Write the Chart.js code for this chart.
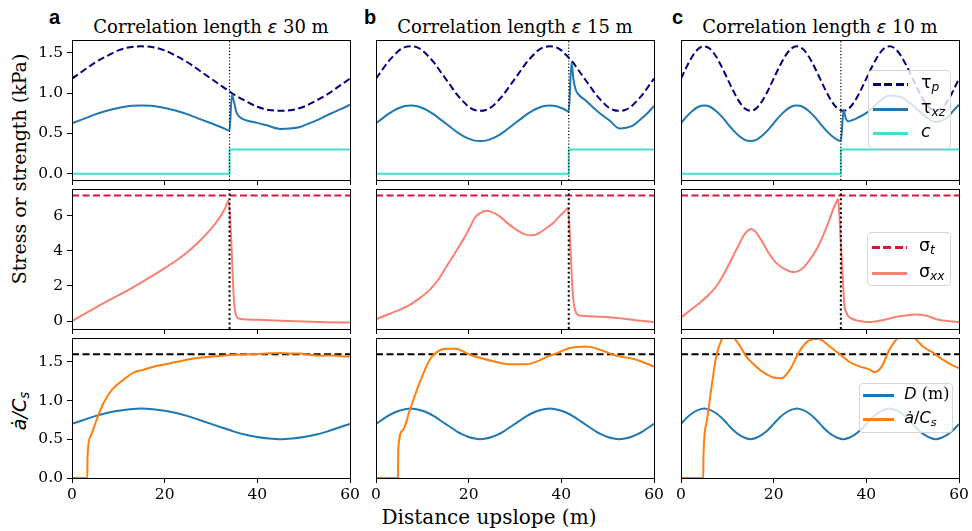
<!DOCTYPE html>
<html>
<head>
<meta charset="utf-8">
<script src="https://cdn.jsdelivr.net/npm/chart.js@4/dist/chart.umd.min.js"></script>
<style>
  body { margin: 0; background: #fff; }
  #fig { position: relative; width: 972px; height: 531px; overflow: hidden; background: #fff; }
  .box { position: absolute; }
  .txt { position: absolute; white-space: nowrap; line-height: 1; color: #000; }
  .serif { font-family: 'DejaVu Serif', serif; }
  .sans { font-family: 'DejaVu Sans', sans-serif; }
  .letter { font-family: 'Liberation Sans', Arial, sans-serif; font-weight: bold; font-size: 20px; }
  sub { font-size: 0.7em; vertical-align: -0.28em; line-height: 0; }
  .leg { position: absolute; background: rgba(255,255,255,0.8); border: 1px solid #d6d6d6; border-radius: 4px; box-sizing: border-box; }
  .handle { position: absolute; height: 3px; }
</style>
</head>
<body>
<div id="fig">
  <div class="txt letter" style="left:49px;top:7px">a</div>
  <div class="txt letter" style="left:364px;top:7px">b</div>
  <div class="txt letter" style="left:672px;top:7px">c</div>

  <div class="txt serif" style="font-size:18px;left:211px;top:18px;transform:translateX(-50%)">Correlation length <span class="sans" style="font-style:italic">ε</span> 30 m</div>
  <div class="txt serif" style="font-size:18px;left:515px;top:18px;transform:translateX(-50%)">Correlation length <span class="sans" style="font-style:italic">ε</span> 15 m</div>
  <div class="txt serif" style="font-size:18px;left:820px;top:18px;transform:translateX(-50%)">Correlation length <span class="sans" style="font-style:italic">ε</span> 10 m</div>

  <div class="txt serif" style="font-size:19px;left:19px;top:169px;transform:translate(-50%,-50%) rotate(-90deg)">Stress or strength (kPa)</div>
  <div class="txt sans" style="font-size:19px;left:19px;top:411px;font-style:italic;transform:translate(-50%,-50%) rotate(-90deg)">ȧ/C<sub>s</sub></div>
  <div class="txt serif" style="font-size:20px;left:489px;top:507px;transform:translateX(-50%)">Distance upslope (m)</div>
</div>

<script>
// x axis and tick labels
const X_TICKS = [0, 20, 40, 60];
const Y_TICKS = [[0, 0.5, 1, 1.5], [0, 2, 4, 6], [0, 0.5, 1, 1.5]];
const Y_RANGE = [[-0.079, 1.659], [-0.45, 7.52], [0, 1.81]];

// failure location per correlation length (a, b, c), thresholds
const FAIL_X = [34, 41.6, 34.5];
const C_AFTER = 0.3;
const SIGMA_T = 7.15;
const A_CRIT = 1.6;

// common x grids (m)
const X25 = [0,2.5,5,7.5,10,12.5,15,17.5,20,22.5,25,27.5,30,32.5,35,37.5,40,42.5,45,47.5,50,52.5,55,57.5,60];
const X49 = [0,1.25,2.5,3.75,5,6.25,7.5,8.75,10,11.25,12.5,13.75,15,16.25,17.5,18.75,20,21.25,22.5,23.75,25,26.25,27.5,28.75,
             30,31.25,32.5,33.75,35,36.25,37.5,38.75,40,41.25,42.5,43.75,45,46.25,47.5,48.75,50,51.25,52.5,53.75,55,56.25,57.5,58.75,60];

// ---- panel a (30 m)
const TAUP_A = [1.18,1.28,1.38,1.46,1.53,1.57,1.58,1.57,1.53,1.46,1.38,1.28,1.18,1.08,0.98,0.90,0.83,0.79,0.78,0.79,0.83,0.90,0.98,1.08,1.18];
const TAUXZ_A_X = [0,2.5,5,7.5,10,12.5,15,17.5,20,22.5,25,27.5,30,32.5,34,34.5,35,35.5,36.5,37.7,40,42,45,47,49.2,51,53.5,56,58,60];
const TAUXZ_A = [0.625,0.68,0.735,0.78,0.815,0.84,0.845,0.84,0.815,0.78,0.735,0.68,0.625,0.57,0.535,0.98,0.88,0.76,0.69,0.66,0.63,0.60,0.555,0.56,0.58,0.62,0.68,0.75,0.80,0.855];
const SXX_A_X = [0,2.5,5,7.5,10,12.5,15,17.5,20,22.5,25,27.5,30,32,33,33.8,34.3,34.7,35.0,35.4,36,37,40,45,50,55,60];
const SXX_A = [0,0.38,0.75,1.12,1.47,1.82,2.2,2.6,3.02,3.45,3.95,4.55,5.25,5.95,6.4,6.85,5.0,2.5,1.0,0.35,0.15,0.1,0.07,0.02,-0.03,-0.06,-0.08];
const D_A = [0.70,0.75,0.80,0.84,0.87,0.89,0.90,0.89,0.87,0.84,0.80,0.75,0.70,0.65,0.60,0.56,0.53,0.51,0.50,0.51,0.53,0.56,0.60,0.65,0.70];
const ADOT_A_X = [0,3.3,3.35,4.0,5.3,6.8,8.6,11.1,13.2,15.5,18.3,21,24,27,30.5,34,38.4,42,44.9,47,49.2,51,53.5,56,58,60];
const ADOT_A = [0,0,0.28,0.54,0.75,0.97,1.14,1.27,1.36,1.40,1.45,1.48,1.52,1.55,1.57,1.59,1.60,1.61,1.615,1.61,1.61,1.595,1.58,1.585,1.575,1.57];

// ---- panel b (15 m)
const TAUP_B = [1.18,1.28,1.38,1.46,1.53,1.57,1.58,1.57,1.53,1.46,1.38,1.28,1.18,1.08,0.98,0.90,0.83,0.79,0.78,0.79,0.83,0.90,0.98,1.08,
                1.18,1.28,1.38,1.46,1.53,1.57,1.58,1.57,1.53,1.46,1.38,1.28,1.18,1.08,0.98,0.90,0.83,0.79,0.78,0.79,0.83,0.90,0.98,1.08,1.18];
const TAUXZ_B_X = [0,1.25,2.5,3.75,5,6.25,7.5,8.75,10,11.25,12.5,13.75,15,16.25,17.5,18.75,20,21.25,22.5,23.75,25,26.25,27.5,28.75,
                   30,31.25,32.5,33.75,35,36.25,37.5,38.75,40,41.25,41.6,42.2,42.6,43.0,43.6,45,46.8,48.5,50.4,52.6,54,55.5,57,58.4,60];
const TAUXZ_B = [0.625,0.68,0.735,0.78,0.815,0.84,0.845,0.84,0.815,0.78,0.735,0.68,0.625,0.57,0.515,0.47,0.435,0.41,0.405,0.41,0.435,0.47,0.515,0.57,
                 0.625,0.68,0.735,0.78,0.815,0.84,0.845,0.84,0.815,0.78,0.765,1.38,1.18,1.06,0.99,0.92,0.825,0.74,0.66,0.56,0.57,0.60,0.67,0.74,0.84];
const SXX_B_X = [0,3,7.3,9.5,11.6,13.5,15.2,17,18.8,20.2,21.3,22.5,23.8,25,26.7,28.5,30.3,32,33.5,35,36.8,38.3,39.6,40.6,41.4,41.7,42.0,42.3,42.6,43.0,43.6,44.5,46,48,50.4,53,56,60];
const SXX_B = [0.1,0.42,0.93,1.32,1.78,2.38,3.11,3.85,4.63,5.3,5.87,6.15,6.28,6.2,5.96,5.55,5.2,4.95,4.88,4.98,5.3,5.6,5.96,6.22,6.44,5.6,4.0,2.3,1.2,0.6,0.35,0.3,0.27,0.25,0.22,0.15,0.05,-0.05];
const D_B = [0.70,0.75,0.80,0.84,0.87,0.89,0.90,0.89,0.87,0.84,0.80,0.75,0.70,0.65,0.60,0.56,0.53,0.51,0.50,0.51,0.53,0.56,0.60,0.65,
             0.70,0.75,0.80,0.84,0.87,0.89,0.90,0.89,0.87,0.84,0.80,0.75,0.70,0.65,0.60,0.56,0.53,0.51,0.50,0.51,0.53,0.56,0.60,0.65,0.70];
const ADOT_B_X = [0,4.75,4.8,5.8,7.3,9.4,11.6,13.4,15.5,17.3,19,20.9,23,25.3,28.9,32.5,35.3,37,38.9,40.5,41.8,43.5,45.4,48.3,50,51.9,55.5,57.5,60];
const ADOT_B = [0,0,0.37,0.62,0.88,1.23,1.53,1.64,1.67,1.67,1.63,1.58,1.545,1.51,1.47,1.47,1.52,1.57,1.61,1.65,1.68,1.695,1.70,1.66,1.62,1.58,1.54,1.50,1.44];

// ---- panel c (10 m)
const TAUP_C = [1.18,1.33,1.46,1.55,1.58,1.55,1.46,1.33,1.18,1.03,0.90,0.81,0.78,0.81,0.90,1.03,
                1.18,1.33,1.46,1.55,1.58,1.55,1.46,1.33,1.18,1.03,0.90,0.81,0.78,0.81,0.90,1.03,
                1.18,1.33,1.46,1.55,1.58,1.55,1.46,1.33,1.18,1.03,0.90,0.81,0.78,0.81,0.90,1.03,1.18];
const TAUXZ_C_X = [0,1.25,2.5,3.75,5,6.25,7.5,8.75,10,11.25,12.5,13.75,15,16.25,17.5,18.75,20,21.25,22.5,23.75,25,26.25,27.5,28.75,30,31.25,32.5,33.75,
                   34.5,35.1,35.5,36.0,37,38,40.2,42.5,45,47.5,50,52.5,55,57.5,58.75,60];
const TAUXZ_C = [0.625,0.71,0.78,0.83,0.845,0.83,0.78,0.71,0.625,0.54,0.47,0.42,0.405,0.42,0.47,0.54,0.625,0.71,0.78,0.83,0.845,0.83,0.78,0.71,0.625,0.54,0.47,0.42,
                 0.405,0.79,0.70,0.65,0.665,0.69,0.76,0.88,0.97,0.95,0.85,0.72,0.64,0.70,0.78,0.855];
const SXX_C_X = [0,2,4,6,7.6,9.5,11.2,12.4,13.4,14.3,15.2,16.2,17.7,19,20.6,22.5,24.5,26,27.8,29.3,30.6,31.8,32.8,33.5,33.9,34.3,34.7,35.0,35.3,35.7,36.0,37,38.6,40,42,44,45.8,48,50.8,53,55.1,57.5,60];
const SXX_C = [0.2,0.62,1.03,1.5,1.97,2.8,3.68,4.3,4.82,5.12,5.24,5.05,4.44,3.85,3.3,2.95,2.79,2.95,3.49,4.1,4.82,5.6,6.34,6.75,6.95,5.5,3.5,2.0,0.83,0.5,0.3,0.12,0,-0.05,-0.02,0.08,0.2,0.3,0.38,0.3,0.11,0.0,-0.05];
const D_C = [0.70,0.78,0.84,0.88,0.90,0.88,0.84,0.78,0.70,0.62,0.56,0.52,0.50,0.52,0.56,0.62,
             0.70,0.78,0.84,0.88,0.90,0.88,0.84,0.78,0.70,0.62,0.56,0.52,0.50,0.52,0.56,0.62,
             0.70,0.78,0.84,0.88,0.90,0.88,0.84,0.78,0.70,0.62,0.56,0.52,0.50,0.52,0.56,0.62,0.70];
const ADOT_C_X = [0,4.8,4.85,5.5,6.6,7.6,8.7,10.3,11.6,12.8,14.1,15.5,17.0,18.5,19.9,21.7,23.5,25.6,27.4,29.6,32.1,34.3,36.4,38.6,40.4,41.8,43.3,45.0,46.8,48.6,50.4,52.2,54.4,56.5,58.2,60];
const ADOT_C = [0,0,0.28,0.71,1.18,1.57,1.78,1.9,1.8,1.70,1.57,1.48,1.40,1.34,1.30,1.29,1.40,1.64,1.77,1.80,1.70,1.60,1.50,1.44,1.41,1.37,1.44,1.66,1.81,1.85,1.81,1.70,1.62,1.53,1.47,1.42];

// layout (px)
const COL_LEFT = [72, 376, 681];
const ROW_TOP = [40, 189, 338];
const PW = 278, PH = 140;
const ML = 60, MR = 14, MT = 14, MB = 30;

const TICK_FONT = { family: 'DejaVu Serif', size: 15.5 };

function series(xs, ys) {
    return xs.map((x, i) => ({ x: x, y: ys[i] }));
}

function line(data, color, width, dash, straight) {
    return {
        data: data,
        borderColor: color,
        backgroundColor: color,
        borderWidth: width,
        borderDash: dash || [],
        pointRadius: 0,
        fill: false,
        tension: straight ? 0 : 0.4,
        cubicInterpolationMode: straight ? 'default' : 'monotone'
    };
}

function failLine(col, row) {
    const f = FAIL_X[col], r = Y_RANGE[row];
    const d = row === 0 ? [1.2, 2] : [2, 2.6];
    return line([{ x: f, y: r[0] }, { x: f, y: r[1] }], '#000', row === 0 ? 1.2 : 2, d, true);
}

function stepC(col) {
    const f = FAIL_X[col];
    return [{ x: 0, y: 0 }, { x: f, y: 0 }, { x: f, y: C_AFTER }, { x: 60, y: C_AFTER }];
}

const frame = {
    id: 'frame',
    afterDatasetsDraw(chart) {
        const a = chart.chartArea, ctx = chart.ctx;
        ctx.save();
        ctx.strokeStyle = '#000';
        ctx.lineWidth = 1;
        ctx.strokeRect(a.left + 0.5, a.top + 0.5, a.right - a.left, a.bottom - a.top);
        ctx.restore();
    }
};

function makePanel(row, col, datasets) {
    const fig = document.getElementById('fig');
    const W = PW + ML + MR, H = PH + MT + MB;
    const cv = document.createElement('canvas');
    cv.width = W; cv.height = H;
    cv.className = 'box';
    cv.style.left = (COL_LEFT[col] - ML) + 'px';
    cv.style.top = (ROW_TOP[row] - MT) + 'px';
    cv.style.width = W + 'px';
    cv.style.height = H + 'px';
    fig.appendChild(cv);

    // first dataset at the bottom, like matplotlib
    datasets.forEach((d, i) => { d.order = datasets.length - i; });

    const yt = Y_TICKS[row];
    new Chart(cv, {
        type: 'line',
        data: { datasets: datasets },
        options: {
            responsive: false,
            animation: false,
            layout: { padding: { top: MT, right: MR, left: 0, bottom: 0 } },
            plugins: { legend: { display: false }, tooltip: { enabled: false } },
            scales: {
                x: {
                    type: 'linear', min: 0, max: 60,
                    afterFit: s => { s.height = MB; },
                    afterBuildTicks: s => { s.ticks = X_TICKS.map(v => ({ value: v })); },
                    ticks: { display: row === 2, font: TICK_FONT, color: '#000', padding: 3, maxRotation: 0, autoSkip: false },
                    grid: { drawOnChartArea: false, tickLength: 5, color: '#000' },
                    border: { display: false }
                },
                y: {
                    type: 'linear', min: Y_RANGE[row][0], max: Y_RANGE[row][1],
                    afterFit: s => { s.width = ML; },
                    afterBuildTicks: s => { s.ticks = yt.map(v => ({ value: v })); },
                    ticks: {
                        display: col === 0, font: TICK_FONT, color: '#000', padding: 4,
                        callback: v => row === 1 ? String(v) : v.toFixed(1)
                    },
                    grid: { display: col === 0, drawOnChartArea: false, tickLength: 5, color: '#000' },
                    border: { display: false }
                }
            }
        },
        plugins: [frame]
    });
}

const TAUP = [series(X25, TAUP_A), series(X49, TAUP_B), series(X49, TAUP_C)];
const TAUXZ = [series(TAUXZ_A_X, TAUXZ_A), series(TAUXZ_B_X, TAUXZ_B), series(TAUXZ_C_X, TAUXZ_C)];
const SXX = [series(SXX_A_X, SXX_A), series(SXX_B_X, SXX_B), series(SXX_C_X, SXX_C)];
const DD = [series(X25, D_A), series(X49, D_B), series(X49, D_C)];
const ADOT = [series(ADOT_A_X, ADOT_A), series(ADOT_B_X, ADOT_B), series(ADOT_C_X, ADOT_C)];

const DASH = [7, 3.5];
for (let col = 0; col < 3; col++) {
    makePanel(0, col, [
        line(TAUP[col], '#000080', 2, DASH),
        line(TAUXZ[col], '#1f77b4', 2),
        line(stepC(col), '#40e0d0', 2, null, true),
        failLine(col, 0)
    ]);
    makePanel(1, col, [
        line([{ x: 0, y: SIGMA_T }, { x: 60, y: SIGMA_T }], '#dc143c', 2, DASH, true),
        line(SXX[col], '#fa8072', 2),
        failLine(col, 1)
    ]);
    makePanel(2, col, [
        line([{ x: 0, y: A_CRIT }, { x: 60, y: A_CRIT }], '#000', 1.8, DASH, true),
        line(DD[col], '#1f77b4', 2),
        line(ADOT[col], '#ff7f0e', 2)
    ]);
}

// legends drawn over the right column
function addLegend(box, fontSize, items) {
    const fig = document.getElementById('fig');
    const b = document.createElement('div');
    b.className = 'leg';
    Object.assign(b.style, { left: box[0] + 'px', top: box[1] + 'px', width: box[2] + 'px', height: box[3] + 'px' });
    fig.appendChild(b);
    items.forEach(it => {
        const h = document.createElement('div');
        h.className = 'handle';
        h.style.left = it.x0 + 'px';
        h.style.top = (it.y - 1.5) + 'px';
        h.style.width = (it.x1 - it.x0) + 'px';
        h.style.background = it.dash
            ? 'repeating-linear-gradient(90deg,' + it.color + ' 0 8px, transparent 8px 11.5px)'
            : it.color;
        fig.appendChild(h);
        const t = document.createElement('div');
        t.className = 'txt sans';
        t.style.fontSize = fontSize + 'px';
        t.style.left = it.tx + 'px';
        t.style.top = (it.y - fontSize * 0.6) + 'px';
        t.innerHTML = it.label;
        fig.appendChild(t);
    });
}

addLegend([868, 70, 83, 79], 17.5, [
    { x0: 873, x1: 908, y: 84, tx: 921, color: '#000080', dash: true, label: 'τ<sub><i>p</i></sub>' },
    { x0: 873, x1: 908, y: 109, tx: 921, color: '#1f77b4', label: 'τ<sub><i>xz</i></sub>' },
    { x0: 873, x1: 908, y: 133.5, tx: 921, color: '#40e0d0', label: '<i>c</i>' }
]);
addLegend([867, 232, 84, 54], 17.5, [
    { x0: 872, x1: 907, y: 247.7, tx: 919, color: '#dc143c', dash: true, label: 'σ<sub><i>t</i></sub>' },
    { x0: 872, x1: 907, y: 273.3, tx: 919, color: '#fa8072', label: 'σ<sub><i>xx</i></sub>' }
]);
addLegend([858.5, 383.3, 94, 49.5], 16, [
    { x0: 862.7, x1: 894.3, y: 395.5, tx: 904.3, color: '#1f77b4', label: '<i>D</i> <span class="serif">(m)</span>' },
    { x0: 862.7, x1: 894.3, y: 419.3, tx: 904.3, color: '#ff7f0e', label: '<i>ȧ</i>/<i>C</i><sub><i>s</i></sub>' }
]);
</script>
</body>
</html>
